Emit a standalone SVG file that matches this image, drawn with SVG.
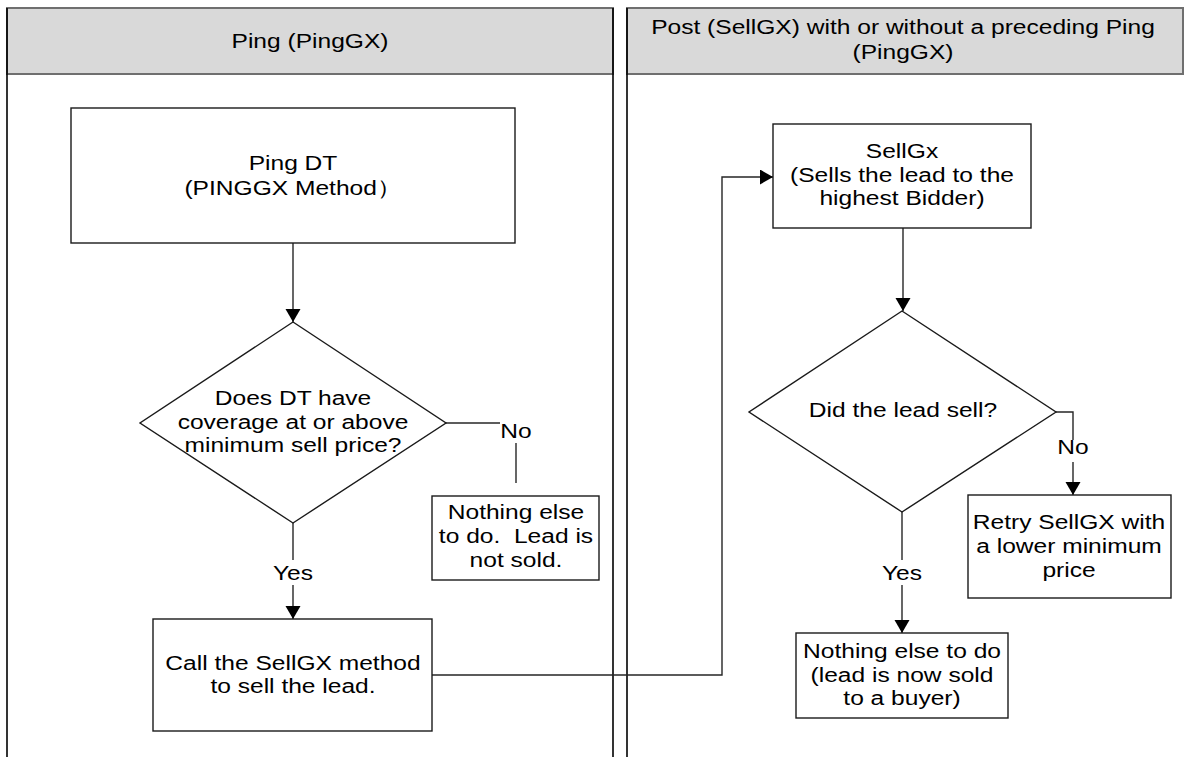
<svg xmlns="http://www.w3.org/2000/svg" width="1191" height="757" viewBox="0 0 1191 757">
<defs>
<marker id="arr" markerUnits="userSpaceOnUse" markerWidth="16" markerHeight="16" refX="13" refY="7.5" orient="auto">
<path d="M0,0 L13,7.5 L0,15 Z" fill="#000"/>
</marker>
<style>
.hdr{fill:#d9d9d9;stroke:#6f6f6f;stroke-width:2}
.lane{stroke:#000;stroke-width:1.6;fill:none}
.box{fill:#fff;stroke:#1a1a1a;stroke-width:1.4}
.con{fill:none;stroke:#262626;stroke-width:1.4}
text{font-family:"Liberation Sans",Arial,sans-serif;font-size:21px;fill:#000;text-anchor:middle}
</style>
</defs>
<rect width="1191" height="757" fill="#fff"/>
<g id="lane-ping">
<rect class="hdr" x="7" y="8" width="606" height="66"/>
<line class="lane" x1="7" y1="8" x2="7" y2="757"/>
<line class="lane" x1="613" y1="8" x2="613" y2="757"/>
<text transform="translate(310 0) scale(1.17 1)" x="0" y="48">Ping (PingGX)</text>
</g>
<g id="lane-post">
<rect class="hdr" x="627" y="8" width="556" height="66"/>
<line class="lane" x1="627" y1="8" x2="627" y2="757"/>
<text transform="translate(903 0) scale(1.17 1)" x="0" y="34">Post (SellGX) with or without a preceding Ping</text>
<text transform="translate(903 0) scale(1.17 1)" x="0" y="59">(PingGX)</text>
</g>
<g id="connectors">
<path class="con" d="M293,243 V322" marker-end="url(#arr)"/>
<path class="con" d="M446,423 H500"/>
<path class="con" d="M516,443 V483"/>
<path class="con" d="M293,523 V560"/>
<path class="con" d="M293,585 V619" marker-end="url(#arr)"/>
<path class="con" d="M432,675 H722 V177 H773" marker-end="url(#arr)"/>
<path class="con" d="M903,228 V311" marker-end="url(#arr)"/>
<path class="con" d="M1056,412 H1073 V440"/>
<path class="con" d="M1073,462 V495" marker-end="url(#arr)"/>
<path class="con" d="M902,512 V560"/>
<path class="con" d="M902,585 V633" marker-end="url(#arr)"/>
<text transform="translate(516 0) scale(1.17 1)" x="0" y="438">No</text>
<text transform="translate(293 0) scale(1.17 1)" x="0" y="580">Yes</text>
<text transform="translate(1073 0) scale(1.17 1)" x="0" y="454">No</text>
<text transform="translate(902 0) scale(1.17 1)" x="0" y="580">Yes</text>
</g>
<g id="ping-dt">
<rect class="box" x="71" y="108" width="444" height="135"/>
<text transform="translate(293 0) scale(1.17 1)" x="0" y="170">Ping DT</text>
<text transform="translate(293 0) scale(1.17 1)" x="0" y="195">(PINGGX Method）</text>
</g>
<g id="decision-coverage">
<polygon class="box" points="293,322 446,423 293,523 140,423"/>
<text transform="translate(293 0) scale(1.17 1)" x="0" y="405">Does DT have</text>
<text transform="translate(293 0) scale(1.17 1)" x="0" y="429">coverage at or above</text>
<text transform="translate(293 0) scale(1.17 1)" x="0" y="452">minimum sell price?</text>
</g>
<g id="not-sold">
<rect class="box" x="432" y="496" width="167" height="84"/>
<text transform="translate(516 0) scale(1.17 1)" x="0" y="519">Nothing else</text>
<text transform="translate(516 0) scale(1.17 1)" x="0" y="543" xml:space="preserve">to do.  Lead is</text>
<text transform="translate(516 0) scale(1.17 1)" x="0" y="567">not sold.</text>
</g>
<g id="call-sellgx">
<rect class="box" x="153" y="619" width="279" height="112"/>
<text transform="translate(293 0) scale(1.17 1)" x="0" y="670">Call the SellGX method</text>
<text transform="translate(293 0) scale(1.17 1)" x="0" y="693">to sell the lead.</text>
</g>
<g id="sellgx">
<rect class="box" x="773" y="124" width="258" height="104"/>
<text transform="translate(902 0) scale(1.17 1)" x="0" y="158">SellGx</text>
<text transform="translate(902 0) scale(1.17 1)" x="0" y="182">(Sells the lead to the</text>
<text transform="translate(902 0) scale(1.17 1)" x="0" y="205">highest Bidder)</text>
</g>
<g id="decision-sold">
<polygon class="box" points="902,311 1056,412 902,512 749,412"/>
<text transform="translate(903 0) scale(1.17 1)" x="0" y="417">Did the lead sell?</text>
</g>
<g id="retry">
<rect class="box" x="968" y="495" width="203" height="103"/>
<text transform="translate(1069 0) scale(1.17 1)" x="0" y="529">Retry SellGX with</text>
<text transform="translate(1069 0) scale(1.17 1)" x="0" y="553">a lower minimum</text>
<text transform="translate(1069 0) scale(1.17 1)" x="0" y="577">price</text>
</g>
<g id="sold">
<rect class="box" x="796" y="633" width="212" height="85"/>
<text transform="translate(902 0) scale(1.17 1)" x="0" y="658">Nothing else to do</text>
<text transform="translate(902 0) scale(1.17 1)" x="0" y="682">(lead is now sold</text>
<text transform="translate(902 0) scale(1.17 1)" x="0" y="705">to a buyer)</text>
</g>
</svg>
